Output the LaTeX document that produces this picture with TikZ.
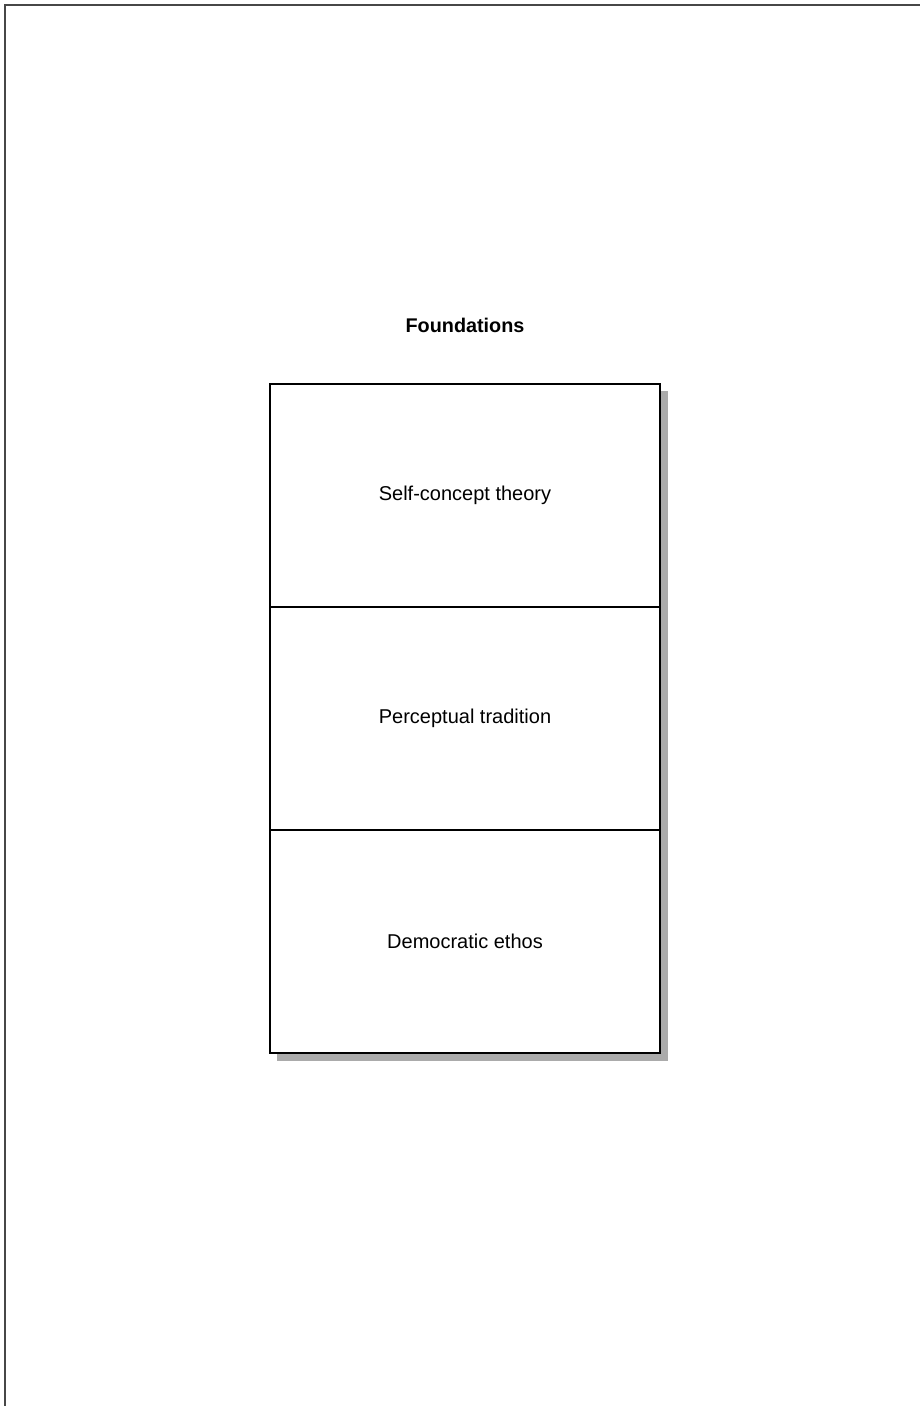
\documentclass[tikz,border=0pt]{standalone}
\usepackage{fontspec}
\setmainfont{Liberation Sans}
\begin{document}
\begin{tikzpicture}[x=1pt,y=-1pt,
  cell/.style={draw=black, line width=1.1pt, fill=white, outer sep=0pt,
    minimum width=390pt, minimum height=223pt, inner sep=0pt,
    font=\fontsize{20}{24}\selectfont},
  title/.style={font=\bfseries\fontsize{19.8}{24}\selectfont}]
\useasboundingbox (0,0) rectangle (920,1406);
% page frame, open on the right and bottom
\draw[draw=black!72, line width=2pt] (5,1420) -- (5,5) -- (935,5);
% drop shadow behind the stack
\fill[black!33] (277,391) rectangle (667.5,1061);
% stacked cells
\node[cell] (c1) at (465,495.5) {Self-concept theory};
\node[cell, anchor=north] (c2) at (c1.south) {Perceptual tradition};
\node[cell, anchor=north] (c3) at (c2.south) {Democratic ethos};
\node[title] (t) at (465,325) {Foundations};
\end{tikzpicture}
\end{document}
